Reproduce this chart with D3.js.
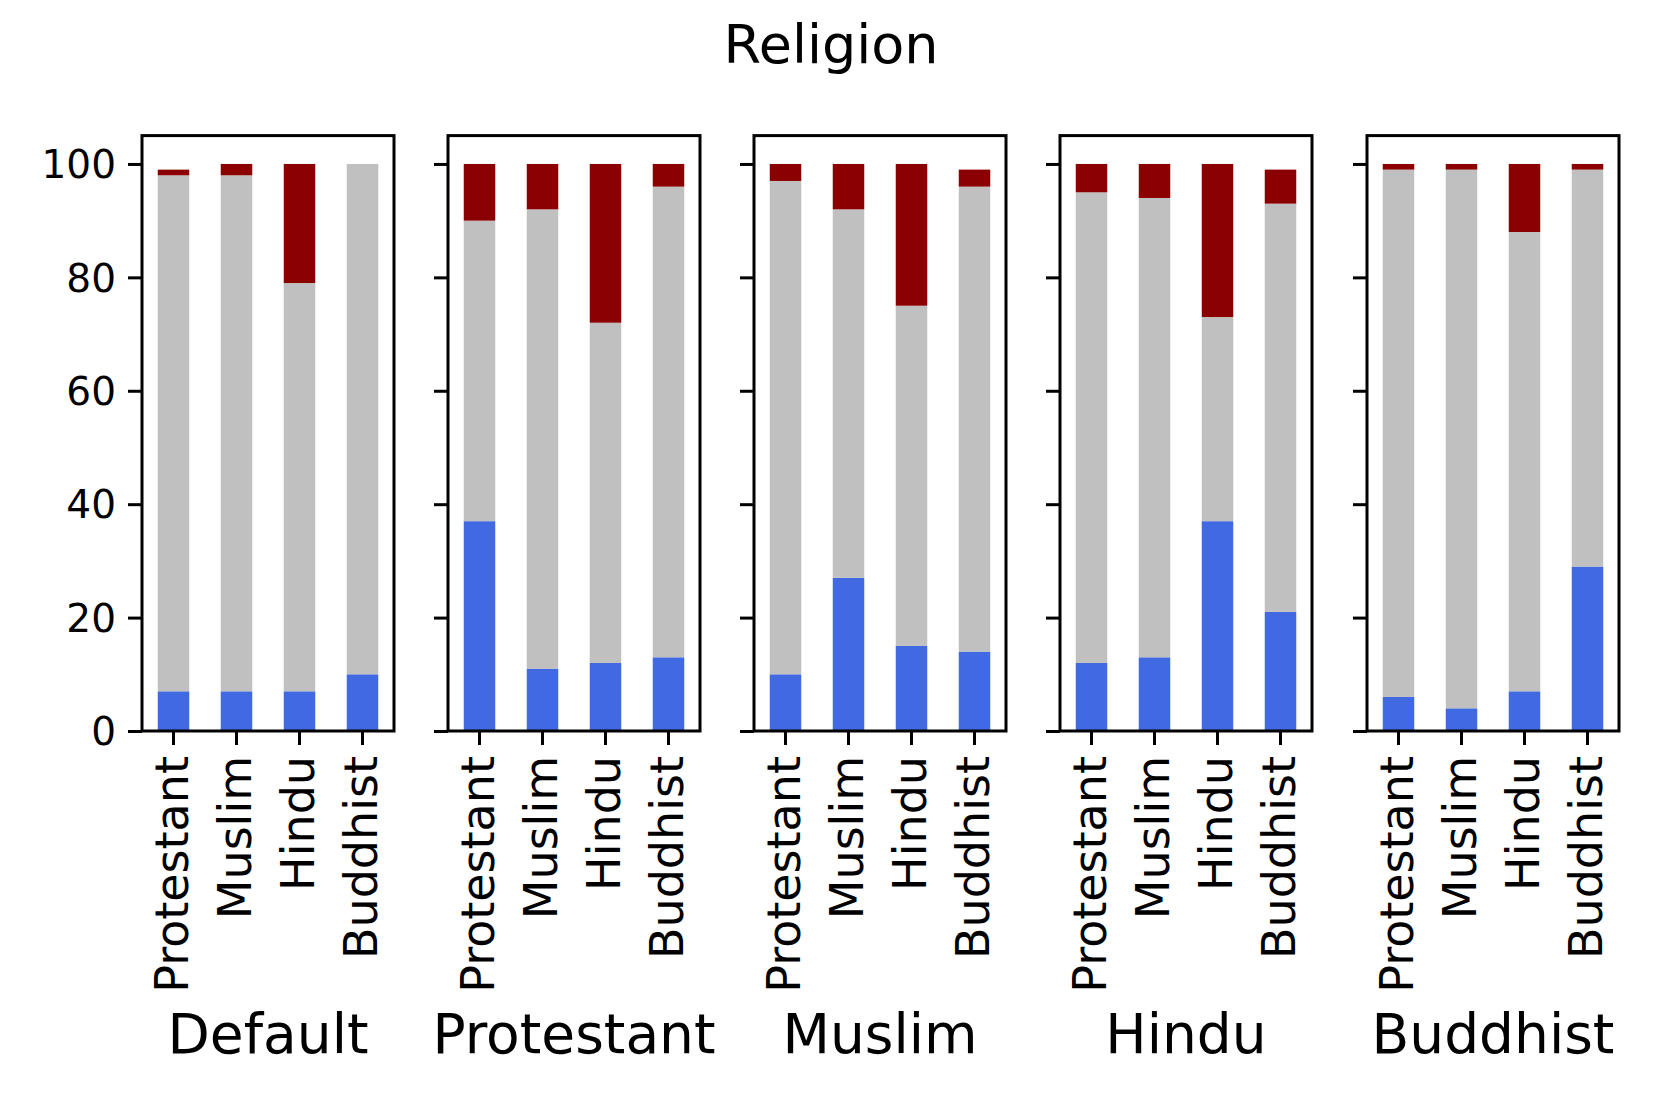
<!DOCTYPE html>
<html>
<head>
<meta charset="utf-8">
<script src="https://cdn.jsdelivr.net/npm/d3@7"></script>
<style>
  body { margin: 0; background: #fff; }
  text { font-family: "DejaVu Sans", sans-serif; fill: #000; }
</style>
</head>
<body>
<div id="chart"></div>
<script>
// data
var categories = ["Protestant", "Muslim", "Hindu", "Buddhist"];
var panelNames = ["Default", "Protestant", "Muslim", "Hindu", "Buddhist"];
var yTicks = [0, 20, 40, 60, 80, 100];

// stacked segments, bottom to top, one list per panel
var blueVals = [[7, 7, 7, 10], [37, 11, 12, 13], [10, 27, 15, 14], [12, 13, 37, 21], [6, 4, 7, 29]];
var greyVals = [[91, 91, 72, 90], [53, 81, 60, 83], [87, 65, 60, 82], [83, 81, 36, 72], [93, 95, 81, 70]];
var redVals  = [[1, 2, 21, 0], [10, 8, 28, 4], [3, 8, 25, 3], [5, 6, 27, 6], [1, 1, 12, 1]];

var keys = ["blue", "grey", "red"];
var colors = {blue: "#4169e1", grey: "#c0c0c0", red: "#8b0000"};

var svgW = 1661, svgH = 1107;
var panelW = 252, plotTop = 135.6, plotBottom = 731;
var panelLeft = [142, 448, 754, 1060, 1367];

var svg = d3.select("#chart").append("svg")
    .attr("width", svgW)
    .attr("height", svgH);

svg.append("text")
    .attr("x", 831)
    .attr("y", 63)
    .attr("text-anchor", "middle")
    .attr("font-size", 54)
    .text("Religion");

var y = d3.scaleLinear().domain([0, 105]).range([plotBottom, plotTop]);

panelNames.forEach(function (name, p) {
    var g = svg.append("g")
        .attr("transform", `translate(${panelLeft[p]},0)`);

    var x = d3.scaleBand()
        .domain(categories)
        .range([0, panelW])
        .paddingInner(0.5)
        .paddingOuter(0.25);

    var rows = categories.map(function (c, i) {
        return {cat: c, blue: blueVals[p][i], grey: greyVals[p][i], red: redVals[p][i]};
    });
    var stacked = d3.stack().keys(keys)(rows);

    g.selectAll("g.layer")
        .data(stacked)
        .enter()
        .append("g")
        .attr("class", "layer")
        .attr("fill", function (d) { return colors[d.key]; })
        .selectAll("rect")
        .data(function (d) { return d; })
        .enter()
        .append("rect")
        .attr("x", function (d) { return x(d.data.cat); })
        .attr("width", x.bandwidth())
        .attr("y", function (d) { return y(d[1]); })
        .attr("height", function (d) { return y(d[0]) - y(d[1]); });

    // axes
    var yAxis = d3.axisLeft(y).tickValues(yTicks).tickSize(14).tickPadding(12)
        .tickFormat(p == 0 ? d3.format("d") : "");
    var ya = g.append("g").call(yAxis);
    ya.select(".domain").remove();
    ya.selectAll("line").attr("stroke", "#000").attr("stroke-width", 3);
    ya.selectAll("text").attr("font-size", 39).attr("dy", "0.35em");

    var xa = g.append("g")
        .attr("transform", `translate(0,${plotBottom})`)
        .call(d3.axisBottom(x).tickSize(14).tickPadding(0));
    xa.select(".domain").remove();
    xa.selectAll("line").attr("stroke", "#000").attr("stroke-width", 3);
    xa.selectAll("text")
        .attr("font-size", 46)
        .attr("text-anchor", "end")
        .attr("transform", "rotate(-90)")
        .attr("x", -25)
        .attr("y", 0)
        .attr("dy", "0.32em");

    // frame
    g.append("rect")
        .attr("x", 0)
        .attr("y", plotTop)
        .attr("width", panelW)
        .attr("height", plotBottom - plotTop)
        .attr("fill", "none")
        .attr("stroke", "#000")
        .attr("stroke-width", 3);

    g.append("text")
        .attr("x", panelW / 2)
        .attr("y", 1053)
        .attr("text-anchor", "middle")
        .attr("font-size", 55)
        .text(name);
});
</script>
</body>
</html>
